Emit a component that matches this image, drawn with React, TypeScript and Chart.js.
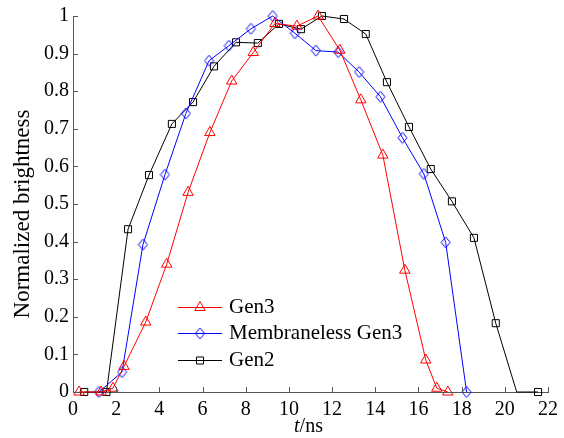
import React, { useEffect, useRef } from 'react';
import { Chart, registerables } from 'chart.js';

Chart.register(...registerables);

// Time axis (ns) and normalized brightness for each tube
const timeGen3 = [0.28, 1.3, 1.85, 2.36, 3.37, 4.34, 5.33, 6.34, 7.35, 8.35, 9.35, 10.37, 11.35, 12.36, 13.33, 14.35, 15.37, 16.34, 16.85, 17.36];
const brightnessGen3 = [0, 0, 0.01, 0.068, 0.186, 0.34, 0.531, 0.69, 0.827, 0.903, 0.98, 0.973, 1.0, 0.909, 0.777, 0.63, 0.324, 0.085, 0.01, 0];

const timeMembraneless = [1.2, 2.27, 3.24, 4.26, 5.23, 6.3, 7.22, 8.24, 9.25, 10.28, 11.25, 12.28, 13.25, 14.24, 15.26, 16.25, 17.26, 18.23];
const brightnessMembraneless = [0, 0.053, 0.392, 0.578, 0.741, 0.881, 0.921, 0.966, 1.0, 0.954, 0.908, 0.904, 0.851, 0.785, 0.676, 0.58, 0.398, 0];

const timeGen2 = [0.52, 1.55, 2.55, 3.52, 4.58, 5.56, 6.53, 7.55, 8.56, 9.54, 10.56, 11.53, 12.55, 13.56, 14.54, 15.56, 16.57, 17.55, 18.57, 19.58, 20.55, 21.54];
const brightnessGen2 = [0, 0, 0.433, 0.577, 0.713, 0.771, 0.866, 0.93, 0.928, 0.979, 0.965, 1.0, 0.992, 0.952, 0.824, 0.705, 0.593, 0.507, 0.41, 0.183, 0, 0];
// the 20.55 ns sample of Gen2 is drawn without a marker
const gen2MarkerHidden = [20];

const seriesNames = ['Gen3', 'Membraneless Gen3', 'Gen2'];
const seriesColors = ['#ff0000', '#0000ff', '#000000'];

const xTickValues = [0, 2, 4, 6, 8, 10, 12, 14, 16, 18, 20, 22];
const yTickValues = [0, 0.1, 0.2, 0.3, 0.4, 0.5, 0.6, 0.7, 0.8, 0.9, 1];

const FONT = "'Liberation Serif', 'DejaVu Serif', serif";
const AXIS_COLOR = '#555555';

function makeDiamond(color: string): HTMLCanvasElement {
  const c = document.createElement('canvas');
  c.width = 11;
  c.height = 13;
  const g = c.getContext('2d')!;
  g.strokeStyle = color;
  g.lineWidth = 1;
  g.beginPath();
  g.moveTo(5.5, 1);
  g.lineTo(10, 6.5);
  g.lineTo(5.5, 12);
  g.lineTo(1, 6.5);
  g.closePath();
  g.stroke();
  return c;
}

function drawMarker(ctx: CanvasRenderingContext2D, kind: string, x: number, y: number, color: string, diamond: HTMLCanvasElement) {
  ctx.save();
  ctx.strokeStyle = color;
  ctx.lineWidth = 1;
  ctx.beginPath();
  if (kind === 'triangle') {
    const r = 6;
    ctx.moveTo(x, y - r);
    ctx.lineTo(x + r * Math.sin((2 * Math.PI) / 3), y + r / 2);
    ctx.lineTo(x - r * Math.sin((2 * Math.PI) / 3), y + r / 2);
    ctx.closePath();
    ctx.stroke();
  } else if (kind === 'rect') {
    const h = 5 * Math.SQRT1_2;
    ctx.rect(x - h, y - h, 2 * h, 2 * h);
    ctx.stroke();
  } else {
    ctx.drawImage(diamond, x - diamond.width / 2, y - diamond.height / 2);
  }
  ctx.restore();
}

export default function App() {
  const canvasRef = useRef<HTMLCanvasElement | null>(null);

  useEffect(() => {
    const canvas = canvasRef.current;
    if (!canvas) return;
    let chart: Chart | null = null;
    let cancelled = false;

    const build = () => {
      if (cancelled) return;
      const diamond = makeDiamond(seriesColors[1]);
      const markerKinds = ['triangle', 'diamond', 'rect'];

      const axisDecor = {
        id: 'axisDecor',
        afterDraw(c: any) {
          const { ctx, chartArea } = c;
          const xs = c.scales.x;
          const ys = c.scales.y;
          ctx.save();
          // inward tick marks
          ctx.strokeStyle = AXIS_COLOR;
          ctx.lineWidth = 1;
          ctx.beginPath();
          yTickValues.forEach((v) => {
            const py = Math.round(ys.getPixelForValue(v)) + 0.5;
            ctx.moveTo(chartArea.left, py);
            ctx.lineTo(chartArea.left + 5, py);
          });
          xTickValues.forEach((v) => {
            const px = Math.round(xs.getPixelForValue(v)) + 0.5;
            ctx.moveTo(px, chartArea.bottom);
            ctx.lineTo(px, chartArea.bottom - 5);
          });
          ctx.stroke();

          // axis titles
          ctx.fillStyle = '#000';
          ctx.textBaseline = 'middle';
          ctx.save();
          ctx.translate(23, (chartArea.top + chartArea.bottom) / 2 + 10);
          ctx.rotate(-Math.PI / 2);
          ctx.textAlign = 'center';
          ctx.font = `23px ${FONT}`;
          ctx.fillText('Normalized brightness', 0, 0);
          ctx.restore();

          ctx.textAlign = 'left';
          ctx.font = `italic 20px ${FONT}`;
          const tW = ctx.measureText('t').width;
          ctx.font = `20px ${FONT}`;
          const nsW = ctx.measureText('/ns').width;
          const cx = (chartArea.left + chartArea.right) / 2 - 2;
          const startX = cx - (tW + nsW) / 2;
          const ty = 427;
          ctx.font = `italic 20px ${FONT}`;
          ctx.fillText('t', startX, ty);
          ctx.font = `20px ${FONT}`;
          ctx.fillText('/ns', startX + tW, ty);

          // legend inside the plot
          const rows = [307, 333, 360];
          ctx.font = `21px ${FONT}`;
          seriesNames.forEach((name, i) => {
            const y = rows[i];
            ctx.strokeStyle = seriesColors[i];
            ctx.beginPath();
            ctx.moveTo(178, y + 0.5);
            ctx.lineTo(222, y + 0.5);
            ctx.stroke();
            drawMarker(ctx, markerKinds[i], 200, y + 0.5, seriesColors[i], diamond);
            ctx.fillStyle = '#000';
            ctx.fillText(name, 229, y);
          });
          ctx.restore();
        },
      };

      const toPoints = (xs: number[], ys: number[]) => xs.map((x, i) => ({ x, y: ys[i] }));

      chart = new Chart(canvas, {
        type: 'line',
        data: {
          datasets: [
            {
              label: seriesNames[0],
              data: toPoints(timeGen3, brightnessGen3),
              borderColor: seriesColors[0],
              backgroundColor: 'rgba(0,0,0,0)',
              borderWidth: 1,
              pointStyle: 'triangle',
              pointRadius: 6,
              pointBorderWidth: 1,
              pointBorderColor: seriesColors[0],
              pointBackgroundColor: 'rgba(0,0,0,0)',
              clip: false as any,
            },
            {
              label: seriesNames[1],
              data: toPoints(timeMembraneless, brightnessMembraneless),
              borderColor: seriesColors[1],
              backgroundColor: 'rgba(0,0,0,0)',
              borderWidth: 1,
              pointStyle: diamond as any,
              pointRadius: 5,
              clip: false as any,
            },
            {
              label: seriesNames[2],
              data: toPoints(timeGen2, brightnessGen2),
              borderColor: seriesColors[2],
              backgroundColor: 'rgba(0,0,0,0)',
              borderWidth: 1,
              pointStyle: 'rect',
              pointRadius: timeGen2.map((_, i) => (gen2MarkerHidden.includes(i) ? 0 : 5)),
              pointBorderWidth: 1,
              pointBorderColor: seriesColors[2],
              pointBackgroundColor: 'rgba(0,0,0,0)',
              clip: false as any,
            },
          ],
        },
        options: {
          animation: false,
          responsive: false,
          devicePixelRatio: 1,
          layout: { padding: { top: 16, right: 15, left: 0, bottom: 0 } },
          plugins: {
            legend: { display: false },
            tooltip: { enabled: false },
          },
          elements: { line: { tension: 0 } },
          scales: {
            x: {
              type: 'linear',
              min: 0,
              max: 22,
              afterFit: (scale: any) => {
                scale.height = 46;
              },
              afterBuildTicks: (scale: any) => {
                scale.ticks = xTickValues.map((v) => ({ value: v }));
              },
              grid: { display: false, drawTicks: false },
              border: { display: true, color: AXIS_COLOR, width: 1 },
              ticks: {
                padding: 6,
                color: '#000',
                maxRotation: 0,
                autoSkip: false,
                font: { family: FONT, size: 20 },
                callback: (v: any) => String(v),
              },
            },
            y: {
              type: 'linear',
              min: 0,
              max: 1,
              afterFit: (scale: any) => {
                scale.width = 73;
              },
              afterBuildTicks: (scale: any) => {
                scale.ticks = yTickValues.map((v) => ({ value: v }));
              },
              grid: { display: false, drawTicks: false },
              border: { display: true, color: AXIS_COLOR, width: 1 },
              ticks: {
                padding: 4,
                color: '#000',
                autoSkip: false,
                font: { family: FONT, size: 20 },
                callback: (v: any) => (v === 0 ? '0' : v === 1 ? '1' : Number(v).toFixed(1)),
              },
            },
          },
        },
        plugins: [axisDecor],
      });
    };

    const fontsApi = (document as any).fonts;
    if (fontsApi && fontsApi.load) {
      Promise.all([
        fontsApi.load("20px 'Liberation Serif'"),
        fontsApi.load("italic 20px 'Liberation Serif'"),
      ])
        .catch(() => undefined)
        .then(build);
    } else {
      build();
    }

    return () => {
      cancelled = true;
      if (chart) chart.destroy();
    };
  }, []);

  return (
    <div style={{ position: 'absolute', left: 0, top: 0, width: 564, height: 438, background: '#fff' }}>
      <span style={{ position: 'absolute', visibility: 'hidden', fontFamily: 'Liberation Serif' }}>
        <span>0</span>
        <i>t</i>
      </span>
      <canvas ref={canvasRef} width={564} height={438} />
    </div>
  );
}
